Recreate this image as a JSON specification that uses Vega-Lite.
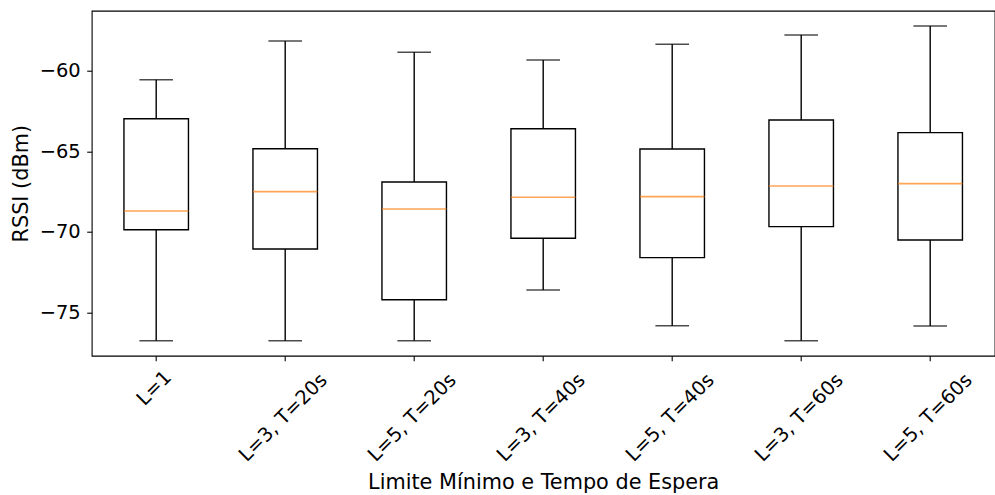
{
  "$schema": "https://vega.github.io/schema/vega-lite/v6.json",
  "width": 903,
  "height": 345,
  "autosize": {"type": "none"},
  "padding": {"left": 91.7, "top": 10.7, "right": 0.3, "bottom": 139.3},
  "background": "white",
  "config": {
    "font": "DejaVu Sans",
    "view": {"stroke": "black", "strokeWidth": 1.1},
    "axis": {
      "grid": false,
      "domain": false,
      "ticks": true,
      "tickColor": "black",
      "tickWidth": 1.1,
      "tickSize": 5,
      "labelFont": "DejaVu Sans",
      "labelFontSize": 19.44,
      "labelColor": "black",
      "titleFont": "DejaVu Sans",
      "titleFontSize": 20.8,
      "titleFontWeight": "normal",
      "titleColor": "black"
    }
  },
  "data": {
    "values": [
      {"cfg": "L=1", "low": -76.74, "q1": -69.86, "med": -68.70, "q3": -62.98, "high": -60.56},
      {"cfg": "L=3, T=20s", "low": -76.74, "q1": -71.05, "med": -67.50, "q3": -64.84, "high": -58.16},
      {"cfg": "L=5, T=20s", "low": -76.74, "q1": -74.20, "med": -68.57, "q3": -66.90, "high": -58.86},
      {"cfg": "L=3, T=40s", "low": -73.60, "q1": -70.39, "med": -67.85, "q3": -63.60, "high": -59.34},
      {"cfg": "L=5, T=40s", "low": -75.81, "q1": -71.59, "med": -67.81, "q3": -64.85, "high": -58.36},
      {"cfg": "L=3, T=60s", "low": -76.74, "q1": -69.67, "med": -67.15, "q3": -63.06, "high": -57.79},
      {"cfg": "L=5, T=60s", "low": -75.83, "q1": -70.50, "med": -67.00, "q3": -63.84, "high": -57.23}
    ]
  },
  "encoding": {
    "x": {
      "field": "cfg",
      "type": "nominal",
      "sort": null,
      "scale": {"paddingInner": 0.5, "paddingOuter": 0.25},
      "axis": {
        "title": "Limite Mínimo e Tempo de Espera",
        "labelAngle": -45,
        "labelAlign": "center",
        "labelBaseline": "middle",
        "labelPadding": {"condition": {"test": "datum.value === 'L=1'", "value": 27}, "value": 56.5},
        "labelOffset": -2,
        "labelOverlap": false,
        "labelBound": false,
        "titleBaseline": "top",
        "titleY": 116.3
      }
    }
  },
  "layer": [
    {
      "mark": {"type": "rule", "color": "black", "strokeWidth": 1.4},
      "encoding": {
        "y": {
          "field": "low",
          "type": "quantitative",
          "scale": {"domain": [-77.67, -56.28], "nice": false, "zero": false},
          "axis": {
            "title": "RSSI (dBm)",
            "values": [-75, -70, -65, -60],
            "labelPadding": 6.5,
            "titleX": -70.2,
            "titleBaseline": "middle"
          }
        },
        "y2": {"field": "high"}
      }
    },
    {
      "mark": {"type": "bar", "fill": "white", "stroke": "black", "strokeWidth": 1.4},
      "encoding": {
        "y": {"field": "q1", "type": "quantitative"},
        "y2": {"field": "q3"}
      }
    },
    {
      "mark": {"type": "tick", "color": "black", "size": 33.6, "thickness": 1.4},
      "encoding": {"y": {"field": "low", "type": "quantitative"}}
    },
    {
      "mark": {"type": "tick", "color": "black", "size": 33.6, "thickness": 1.4},
      "encoding": {"y": {"field": "high", "type": "quantitative"}}
    },
    {
      "mark": {"type": "tick", "color": "#ff7f0e", "size": 64.5, "thickness": 1.6},
      "encoding": {"y": {"field": "med", "type": "quantitative"}}
    }
  ]
}
